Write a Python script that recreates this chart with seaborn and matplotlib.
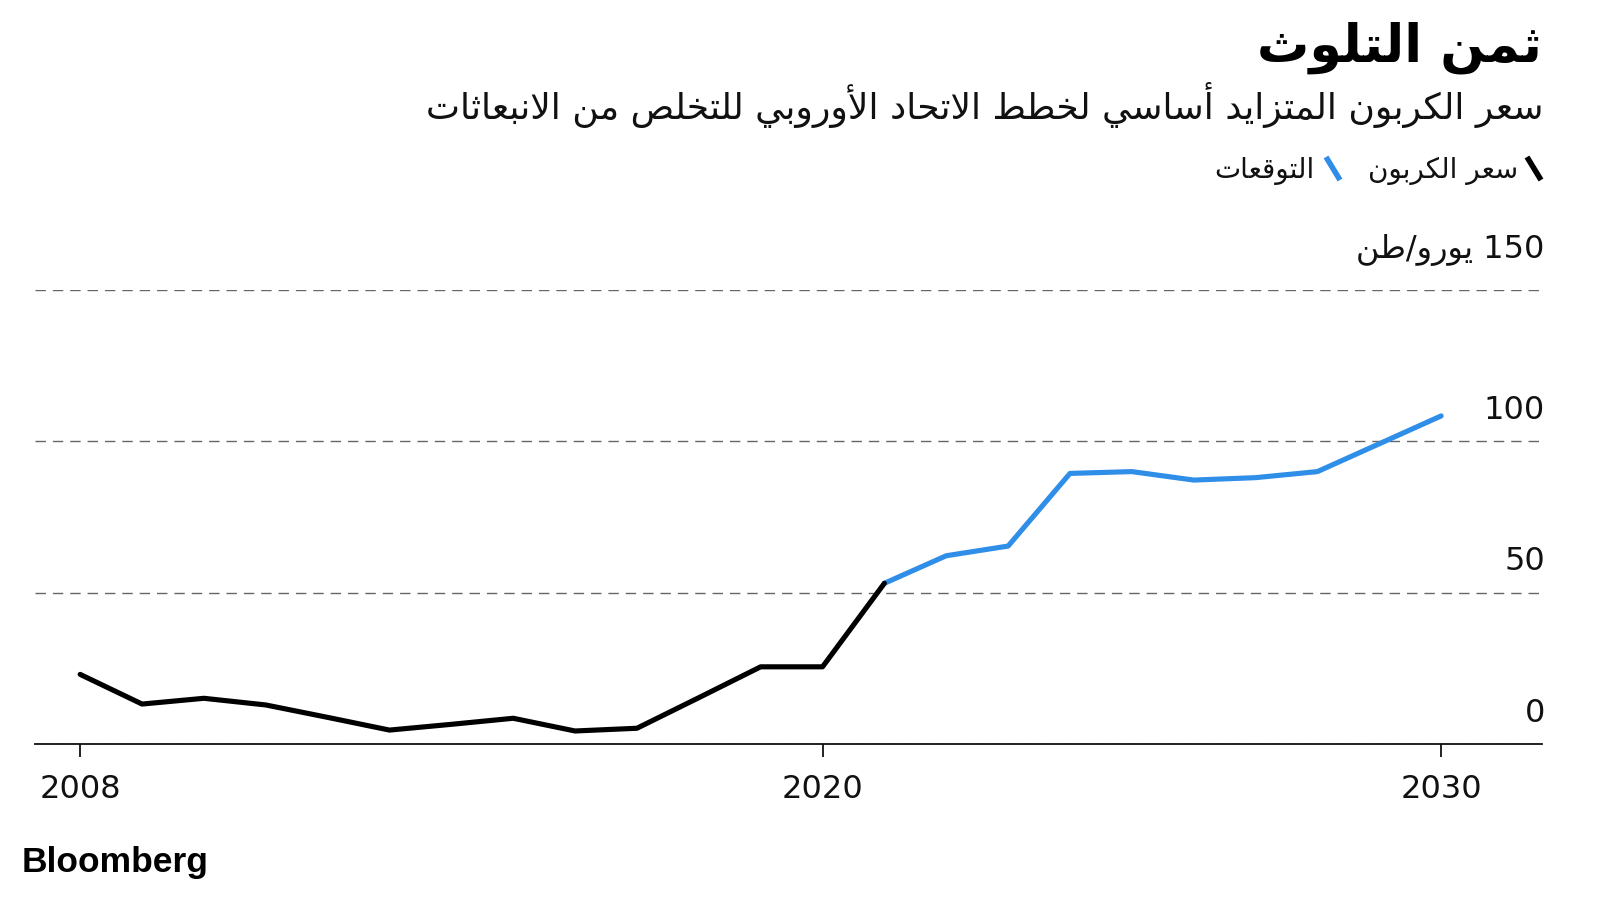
import re
import matplotlib
matplotlib.use("Agg")
import matplotlib.pyplot as plt
import matplotlib.transforms as mtransforms
from matplotlib.lines import Line2D
import seaborn as sns

# ---------------- data ----------------
years_actual = [2008, 2009, 2010, 2011, 2012, 2013, 2014, 2015, 2016, 2017, 2018, 2019, 2020, 2021]
price_actual = [23.0, 13.2, 15.1, 12.9, 8.8, 4.6, 6.5, 8.5, 4.3, 5.2, 15.3, 25.5, 25.5, 53.1]
years_forecast = [2021, 2022, 2023, 2024, 2025, 2026, 2027, 2028, 2029, 2030]
price_forecast = [53.1, 62.2, 65.4, 89.4, 90.0, 87.2, 88.0, 90.0, 99.2, 108.4]

x_ticks = [2008, 2020, 2030]
y_ticks = [0, 50, 100, 150]
y_tick_labels = ["0", "50", "100", "150 يورو/طن"]

title = "ثمن التلوث"
subtitle = "سعر الكربون المتزايد أساسي لخطط الاتحاد الأوروبي للتخلص من الانبعاثات"
legend_labels = ["سعر الكربون", "التوقعات"]
source = "Bloomberg"

BLACK = "#000000"
BLUE = "#2f8ee8"

# ---------------- minimal Arabic shaping ----------------
DUAL = {'ب': 0xFE8F, 'ت': 0xFE95, 'ث': 0xFE99, 'ج': 0xFE9D, 'ح': 0xFEA1, 'خ': 0xFEA5,
        'س': 0xFEB1, 'ش': 0xFEB5, 'ص': 0xFEB9, 'ض': 0xFEBD, 'ط': 0xFEC1, 'ظ': 0xFEC5,
        'ع': 0xFEC9, 'غ': 0xFECD, 'ف': 0xFED1, 'ق': 0xFED5, 'ك': 0xFED9, 'ل': 0xFEDD,
        'م': 0xFEE1, 'ن': 0xFEE5, 'ه': 0xFEE9, 'ي': 0xFEF1}
RIGHT = {'ا': 0xFE8D, 'أ': 0xFE83, 'إ': 0xFE87, 'آ': 0xFE81, 'ة': 0xFE93, 'د': 0xFEA9,
         'ذ': 0xFEAB, 'ر': 0xFEAD, 'ز': 0xFEAF, 'و': 0xFEED, 'ى': 0xFEEF}
LIG = {'ا': 0xFEFB, 'أ': 0xFEF7, 'إ': 0xFEF9, 'آ': 0xFEF5}


def ar(text):
    units = []
    i = 0
    while i < len(text):
        c = text[i]
        if c == 'ل' and i + 1 < len(text) and text[i + 1] in LIG:
            units.append(('L', LIG[text[i + 1]]))
            i += 2
        else:
            units.append(('C', c))
            i += 1

    def joins_next(u):
        return u[0] == 'C' and u[1] in DUAL

    def is_ar(u):
        return u[0] == 'L' or u[1] in DUAL or u[1] in RIGHT

    out = []
    for k, u in enumerate(units):
        prev = units[k - 1] if k > 0 else None
        nxt = units[k + 1] if k + 1 < len(units) else None
        jp = prev is not None and joins_next(prev) and is_ar(u)
        jn = joins_next(u) and nxt is not None and is_ar(nxt)
        if u[0] == 'L':
            out.append(chr(u[1] + (1 if jp else 0)))
        elif u[1] in DUAL:
            off = 3 if (jp and jn) else 1 if jp else 2 if jn else 0
            out.append(chr(DUAL[u[1]] + off))
        elif u[1] in RIGHT:
            out.append(chr(RIGHT[u[1]] + (1 if jp else 0)))
        else:
            out.append(u[1])
    s = ''.join(out)
    tokens = re.findall(r'[0-9A-Za-z.,]+|.', s)
    return ''.join(reversed(tokens))


# ---------------- figure ----------------
sns.set_theme(style="white")
plt.rcParams['font.family'] = ['DejaVu Sans']

W, H = 1600, 900
fig = plt.figure(figsize=(16, 9), dpi=100)
fig.patch.set_facecolor("white")

def fx(px):
    return px / W

def fy(py):
    return 1 - py / H

ax = fig.add_axes([fx(35), fy(744), fx(1542) - fx(35), fy(290) - fy(744)])
ax.set_facecolor("white")

sns.lineplot(x=years_actual, y=price_actual, color=BLACK, lw=3.7, ax=ax,
             solid_capstyle='round', solid_joinstyle='round', zorder=4)
sns.lineplot(x=years_forecast, y=price_forecast, color=BLUE, lw=3.7, ax=ax,
             solid_capstyle='round', solid_joinstyle='round', zorder=3)

ax.set_xlim(2007.27, 2031.63)
ax.set_ylim(0, 150)
ax.set_xlabel("")
ax.set_ylabel("")

for s in ["top", "left", "right"]:
    ax.spines[s].set_visible(False)
ax.spines["bottom"].set_color("#111111")
ax.spines["bottom"].set_linewidth(1.3)
ax.spines["bottom"].set_zorder(5)

ax.set_xticks(x_ticks)
ax.set_xticklabels([str(v) for v in x_ticks])
ax.tick_params(axis='x', direction='out', length=9.5, width=1.3, color="#111111",
               pad=12, labelsize=23, labelcolor="#111111", bottom=True)

ax.set_yticks(y_ticks)
ax.tick_params(axis='y', left=False, right=False, labelleft=False, labelright=False)
ax.yaxis.grid(True, color="#666666", lw=1.0, linestyle=(0, (7.5, 5)))
ax.xaxis.grid(False)

ytrans = ax.get_yaxis_transform()
for v, lab in zip(y_ticks, y_tick_labels):
    up = 23 if v == 150 else 16
    tr = mtransforms.offset_copy(ytrans, fig=fig, x=2, y=up, units='points')
    ax.text(1.0, v, ar(lab), transform=tr, ha='right', va='baseline',
            fontsize=23, color="#111111", zorder=6)

# title & subtitle
fig.text(fx(1542), fy(61), ar(title), ha='right', va='baseline',
         fontsize=37.5, fontweight='bold', color="#000000")
fig.text(fx(1543), fy(119), ar(subtitle), ha='right', va='baseline',
         fontsize=26, color="#111111")

# legend
fig.add_artist(Line2D([fx(1527), fx(1541)], [fy(157), fy(180)], transform=fig.transFigure,
                      color=BLACK, lw=4, solid_capstyle='butt'))
fig.text(fx(1518), fy(178), ar(legend_labels[0]), ha='right', va='baseline',
         fontsize=20, color="#111111")
fig.add_artist(Line2D([fx(1326), fx(1340)], [fy(157), fy(180)], transform=fig.transFigure,
                      color=BLUE, lw=4, solid_capstyle='butt'))
fig.text(fx(1315), fy(178), ar(legend_labels[1]), ha='right', va='baseline',
         fontsize=20, color="#111111")

# source
fig.text(fx(22), fy(872), source, ha='left', va='baseline', fontsize=25.5,
         fontweight='bold', family=['Liberation Sans', 'DejaVu Sans'], color="#000000")

fig.savefig("out.png", dpi=100, facecolor="white")
